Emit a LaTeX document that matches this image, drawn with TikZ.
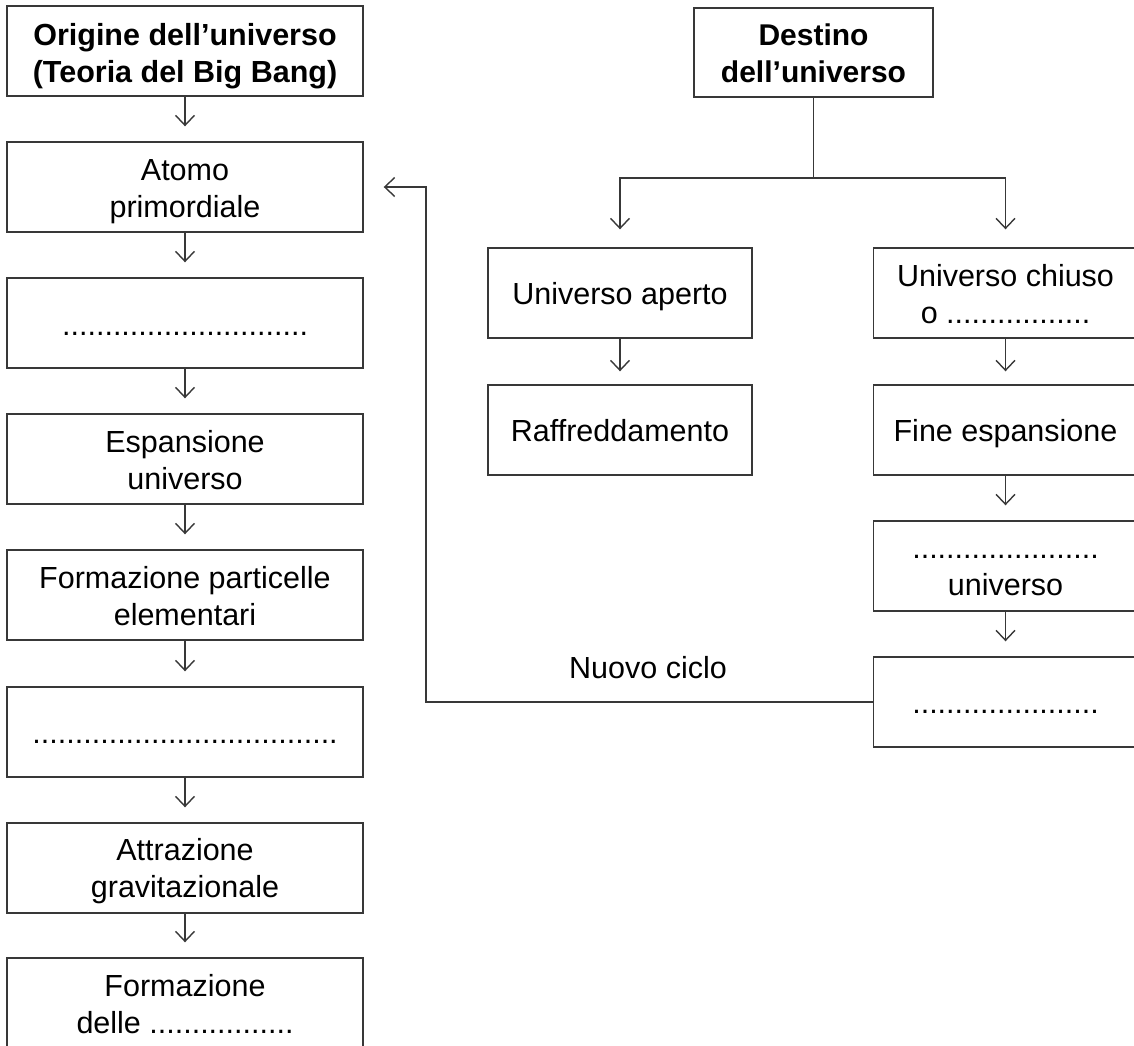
\documentclass[tikz,border=0pt]{standalone}
\usepackage{fontspec}
\setmainfont{Liberation Sans}
\usetikzlibrary{arrows.meta}
\definecolor{linec}{HTML}{383838}
\newcommand\tl[1]{\begin{tabular}[t]{@{}c@{}}#1\end{tabular}}
\begin{document}
\begin{tikzpicture}[x=1pt,y=-1pt,
  txt/.style={font=\fontsize{30.5}{37}\selectfont, inner sep=0pt, anchor=base},
  bold/.style={txt, font=\fontsize{30.5}{37}\selectfont\bfseries},
  box/.style={draw=linec, line width=1.4pt, inner sep=0pt, minimum height=90pt},
  lbox/.style={box, minimum width=356pt},
  rbox/.style={box, minimum width=264pt},
  arr/.style={draw=linec, line width=1.4pt, -{Straight Barb[length=10pt,width=19pt]}, shorten >=15pt},
  ln/.style={draw=linec, line width=1.4pt}]
\useasboundingbox (0,0) rectangle (1134,1045);
\clip (0,0) rectangle (1134,1045);
% left column boxes
\node[lbox] (b1) at (185,51) {};
\node[lbox] (b2) at (185,187) {};
\node[lbox] (b3) at (185,323) {};
\node[lbox] (b4) at (185,459) {};
\node[lbox] (b5) at (185,595) {};
\node[lbox] (b6) at (185,732) {};
\node[lbox] (b7) at (185,868) {};
\node[lbox, minimum height=94pt] (b8) at (185,1005) {};
% left column texts
\node[bold] (t1) at (185,45) {\tl{Origine dell’universo\\(Teoria del Big Bang)}};
\node[txt] (t2) at (185,180) {\tl{Atomo\\primordiale}};
\node[txt] (t3) at (185,335) {\tl{.............................}};
\node[txt] (t4) at (185,452.5) {\tl{Espansione\\universo}};
\node[txt] (t5) at (185,588) {\tl{Formazione particelle\\elementari}};
\node[txt] (t6) at (185,743) {\tl{....................................}};
\node[txt] (t7) at (185,860.5) {\tl{Attrazione\\gravitazionale}};
\node[txt] (t8) at (185,996) {\tl{Formazione\\delle .................}};
\draw[arr] (b1) -- (b2);
\draw[arr] (b2) -- (b3);
\draw[arr] (b3) -- (b4);
\draw[arr] (b4) -- (b5);
\draw[arr] (b5) -- (b6);
\draw[arr] (b6) -- (b7);
\draw[arr] (b7) -- (b8);
% right part boxes
\node[box, minimum width=239pt, minimum height=89pt] (dest) at (813.5,52.5) {};
\node[rbox] (ua) at (620,293) {};
\node[rbox] (raff) at (620,430) {};
\node[rbox] (uc) at (1005.5,293) {};
\node[rbox] (fine) at (1005.5,430) {};
\node[rbox] (du) at (1005.5,566) {};
\node[rbox] (last) at (1005.5,702) {};
% right part texts
\node[bold, font=\fontsize{30}{37}\selectfont\bfseries] (tdest) at (813.5,45) {\tl{Destino\\dell’universo}};
\node[txt] (tua) at (620,304.5) {\tl{Universo aperto}};
\node[txt] (traff) at (620,441.5) {\tl{Raffreddamento}};
\node[txt] (tuc) at (1005.5,286) {\tl{Universo chiuso\\o .................}};
\node[txt] (tfine) at (1005.5,441.5) {\tl{Fine espansione}};
\node[txt] (tdu) at (1005.5,558.5) {\tl{......................\\universo}};
\node[txt] (tlast) at (1005.5,713) {\tl{......................}};
\coordinate (bar) at (0,178);
\draw[ln] (dest.south) -- (dest.south |- bar);
\draw[arr, shorten >=18pt] (dest.south |- bar) -| (ua.north);
\draw[arr, shorten >=18pt] (dest.south |- bar) -| (uc.north);
\draw[arr, shorten >=13pt] (ua) -- (raff);
\draw[arr, shorten >=13pt] (uc) -- (fine);
\draw[arr] (fine) -- (du);
\draw[arr] (du) -- (last);
% new cycle
\coordinate (cyc) at (426,0);
\draw[arr, shorten >=20pt] (last.west) -- (last.west -| cyc) |- (b2.east);
\node[txt] (nc) at (648,678) {Nuovo ciclo};
\end{tikzpicture}
\end{document}
